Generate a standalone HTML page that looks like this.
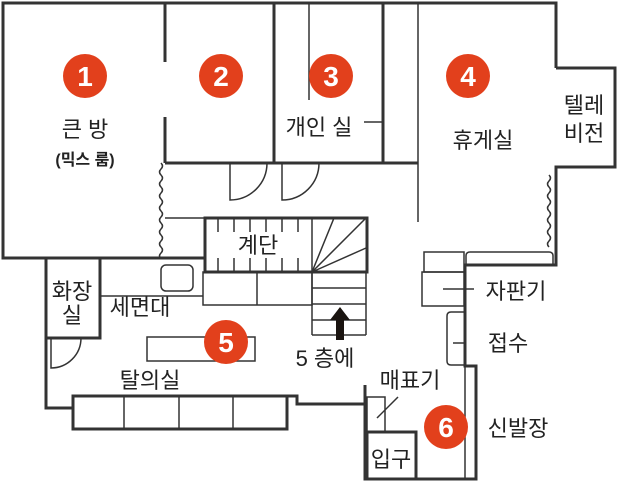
<!DOCTYPE html>
<html><head><meta charset="utf-8"><style>
html,body{margin:0;padding:0;background:#fff}
svg{display:block}
text{font-family:"Liberation Sans","Noto Sans CJK KR",sans-serif;fill:#222}
.n{fill:#fff;font-weight:bold;font-size:28px;text-anchor:middle}
.l{font-size:22px;text-anchor:middle}
</style></head><body>
<svg width="617" height="482" viewBox="0 0 617 482" xmlns="http://www.w3.org/2000/svg">
<g fill="none" stroke="#333" stroke-width="3">
<polyline points="556,68 556,3 3,3 3,258 46,258 46,408 73,408"/>
<polyline points="556,68 615,68 615,167 556,167 556,265 465,265 465,366 476,366 476,479 365,479 365,404 297,404 297,396 287,396"/>
<line x1="165" y1="3" x2="165" y2="62"/><line x1="165" y1="117" x2="165" y2="163"/>
<line x1="274" y1="3" x2="274" y2="163"/>
<line x1="383" y1="3" x2="383" y2="163"/>
<line x1="165" y1="163" x2="418" y2="163"/>
<line x1="3" y1="258" x2="205" y2="258"/>
<rect x="46" y="258" width="54" height="80"/>
<rect x="205" y="218" width="162" height="54"/>
<line x1="365" y1="385" x2="365" y2="404"/>
<rect x="73" y="396" width="214" height="33"/>
<rect x="367" y="432" width="49" height="47"/>
</g>
<g fill="none" stroke="#333" stroke-width="1.5">
<line x1="309" y1="3" x2="309" y2="100"/>
<line x1="364" y1="122" x2="383" y2="122"/>
<line x1="418" y1="3" x2="418" y2="222"/>
<line x1="165" y1="218" x2="205" y2="218"/>
<path d="M161,163 q3,3 0,6 q-3,3 0,6 q3,3 0,6 q-3,3 0,6 q3,3 0,6 q-3,3 0,6 q3,3 0,6 q-3,3 0,6 q3,3 0,6 q-3,3 0,6 q3,3 0,6 q-3,3 0,6 q3,3 0,6 q-3,3 0,6 q3,3 0,6 q-3,3 0,6"/>
<path d="M549,175 q3,3 0,6 q-3,3 0,6 q3,3 0,6 q-3,3 0,6 q3,3 0,6 q-3,3 0,6 q3,3 0,6 q-3,3 0,6 q3,3 0,6 q-3,3 0,6 q3,3 0,6 q-3,3 0,6"/>
<path d="M230,163 V200 A37,37 0 0 0 267,163"/>
<path d="M282,163 V200 A37,37 0 0 0 319,163"/>
<path d="M51,338 V368 A30,30 0 0 0 81,338"/>
<line x1="100" y1="296" x2="203" y2="296"/>
<rect x="161" y="265" width="32" height="26" rx="5"/>
<rect x="203" y="272" width="109" height="33"/><line x1="257" y1="272" x2="257" y2="305"/>
<line x1="312" y1="218" x2="312" y2="335"/>
<path d="M218,218V232M234,218V232M250,218V232M266,218V232M282,218V232M298,218V232M218,258V272M234,258V272M250,258V272M266,258V272M282,258V272M298,258V272"/>
<path d="M312,272 L334,218 M312,272 L366,218 M312,272 L366,248 M312,272 L366,272"/>
<path d="M312,288H366M312,304H366M312,320H366M312,335H366M366,272V335"/>
<rect x="147" y="337" width="108" height="24"/>
<path d="M124,396V429M179,396V429M233,396V429"/>
<rect x="367" y="397" width="18" height="35"/><line x1="377" y1="418" x2="398" y2="397"/>
<line x1="465" y1="366" x2="465" y2="479"/>
<rect x="422" y="272" width="42" height="34"/>
<rect x="424" y="252" width="40" height="20"/>
<path d="M466,265 V256 q0,-4 4,-4 H549 q4,0 4,4 V265"/>
<path d="M464,312 H451 q-4,0 -4,4 V361 q0,4 4,4 H464"/>
<line x1="443" y1="289" x2="474" y2="289"/>
<line x1="453" y1="343" x2="466" y2="343"/>
</g>
<path d="M340,307 L350,320 H344 V340 H336 V320 H330 Z" fill="#1a1410"/>
<g fill="#e2401c">
<circle cx="85" cy="76" r="22"/><circle cx="221" cy="76" r="22"/><circle cx="331" cy="76" r="22"/><circle cx="468" cy="76" r="22"/><circle cx="226" cy="342" r="22"/><circle cx="446" cy="427" r="22"/>
</g>
<text class="n" x="85" y="86">1</text><text class="n" x="221" y="86">2</text><text class="n" x="331" y="86">3</text><text class="n" x="468" y="86">4</text><text class="n" x="226" y="352">5</text><text class="n" x="446" y="437">6</text>
<text class="l" x="85" y="137">큰 방</text>
<text x="85" y="165" style="font-size:16px;font-weight:bold;text-anchor:middle">(믹스 룸)</text>
<text class="l" x="319" y="135">개인 실</text>
<text class="l" x="483" y="148">휴게실</text>
<text class="l" x="584" y="113">텔레</text>
<text class="l" x="584" y="141">비전</text>
<text class="l" x="258" y="253">계단</text>
<text class="l" x="72" y="299">화장</text>
<text class="l" x="72" y="323">실</text>
<text class="l" x="140" y="315">세면대</text>
<text class="l" x="150" y="388">탈의실</text>
<text class="l" x="325" y="366">5 층에</text>
<text class="l" x="410" y="388">매표기</text>
<text class="l" x="516" y="299">자판기</text>
<text class="l" x="508" y="351">접수</text>
<text class="l" x="518" y="436">신발장</text>
<text class="l" x="391" y="467">입구</text>
</svg>
</body></html>
